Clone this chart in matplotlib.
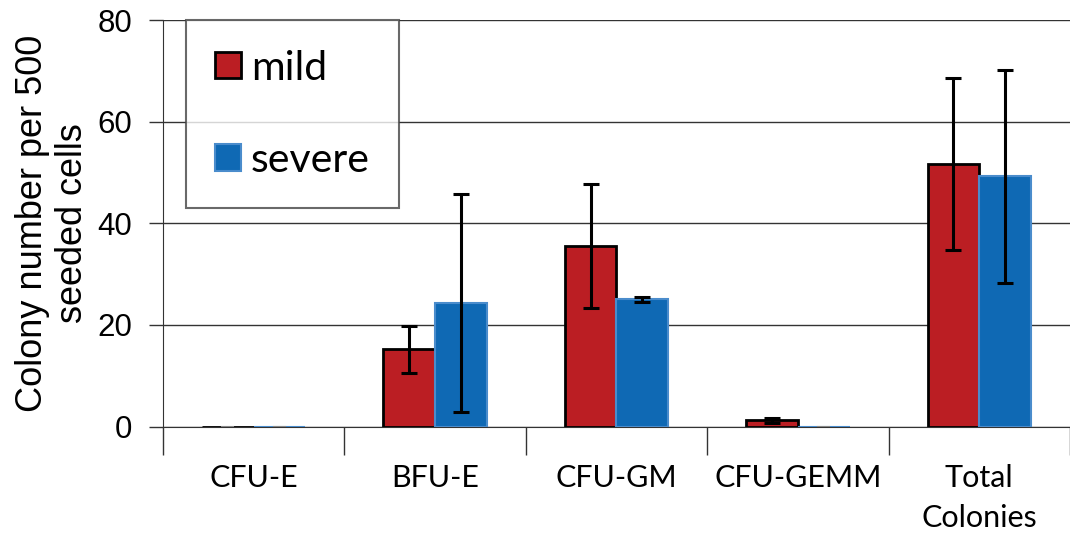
import numpy as np
import matplotlib.pyplot as plt

categories = ["CFU-E", "BFU-E", "CFU-GM", "CFU-GEMM", "Total\nColonies"]
mild = [0, 15.2, 35.5, 1.3, 51.7]
mild_lo = [0, 10.5, 23.3, 0.8, 34.8]
mild_hi = [0, 19.8, 47.7, 1.8, 68.5]
severe = [0, 24.3, 25.1, 0, 49.4]
severe_lo = [0, 2.8, 24.5, 0, 28.3]
severe_hi = [0, 45.7, 25.6, 0, 70.1]

red = "#bb1e23"
blue = "#0f69b4"

plt.rcParams["font.family"] = ["Liberation Sans", "DejaVu Sans"]

fig = plt.figure(figsize=(10.7, 5.35), dpi=100)
ax = fig.add_axes([0.1523, 0.2025, 0.8477, 0.7601])

x = np.arange(len(categories))
w = 0.285

mild_err = [np.array(mild) - np.array(mild_lo), np.array(mild_hi) - np.array(mild)]
severe_err = [np.array(severe) - np.array(severe_lo), np.array(severe_hi) - np.array(severe)]

ax.bar(x - w / 2, mild, w, color=red, edgecolor="black", linewidth=2, label="mild", zorder=3)
ax.bar(x + w / 2, severe, w, color=blue, edgecolor="#4a8ccc", linewidth=1.5, label="severe", zorder=3)
# error bars drawn where there is a spread
for i in range(len(x)):
    if mild_hi[i] > mild_lo[i]:
        ax.errorbar(x[i] - w / 2, mild[i], yerr=[[mild_err[0][i]], [mild_err[1][i]]],
                    fmt="none", ecolor="black", elinewidth=2.2, capsize=6, capthick=2.2, zorder=4)
    if severe_hi[i] > severe_lo[i]:
        ax.errorbar(x[i] + w / 2, severe[i], yerr=[[severe_err[0][i]], [severe_err[1][i]]],
                    fmt="none", ecolor="black", elinewidth=2.2, capsize=6, capthick=2.2, zorder=4)

# tiny flat marks for zero values
for i in range(len(x)):
    if mild[i] == 0:
        ax.plot([x[i] - w / 2 - 0.03, x[i] - w / 2 + 0.03], [0, 0], color="#888888", lw=1.5, zorder=3)
    if severe[i] == 0:
        ax.plot([x[i] + w / 2 - 0.03, x[i] + w / 2 + 0.03], [0, 0], color="#888888", lw=1.5, zorder=3)

ax.set_xlim(-0.5, len(categories) - 0.5)
ax.set_ylim(0, 80)
ax.set_yticks([0, 20, 40, 60, 80])
ax.yaxis.grid(True, color="#333333", linewidth=1)
ax.set_axisbelow(True)

ax.set_xticks(np.arange(len(categories) + 1) - 0.5)
ax.set_xticklabels([])
ax.tick_params(axis="x", direction="out", length=20, width=1, color="#333333")
ax.set_xticks(x, minor=True)
ax.set_xticklabels(categories, minor=True, fontsize=22, family="Lato", linespacing=1.5)
ax.tick_params(axis="x", which="minor", length=0, pad=27)

ax.tick_params(axis="y", direction="out", length=10, width=1, labelsize=22.5, color="#333333", pad=12)

for s in ["top", "right"]:
    ax.spines[s].set_visible(False)
ax.spines["left"].set_color("#333333")
ax.spines["bottom"].set_color("#333333")

ax.set_ylabel("Colony number per 500\nseeded cells", fontsize=26, linespacing=1.2)
ax.yaxis.set_label_coords(-0.080, 0.5)

leg = ax.legend(loc="upper left", bbox_to_anchor=(0.025, 1.0),
                prop={"family": "Lato", "size": 29.5}, frameon=True, fancybox=False,
                edgecolor="#444444", handlelength=0.62, handleheight=0.62, handletextpad=0.25,
                labelspacing=1.35, borderpad=0.72, borderaxespad=0.0)
leg.get_frame().set_linewidth(1.5)
leg.set_zorder(5)

fig.savefig("out.png", dpi=100)
